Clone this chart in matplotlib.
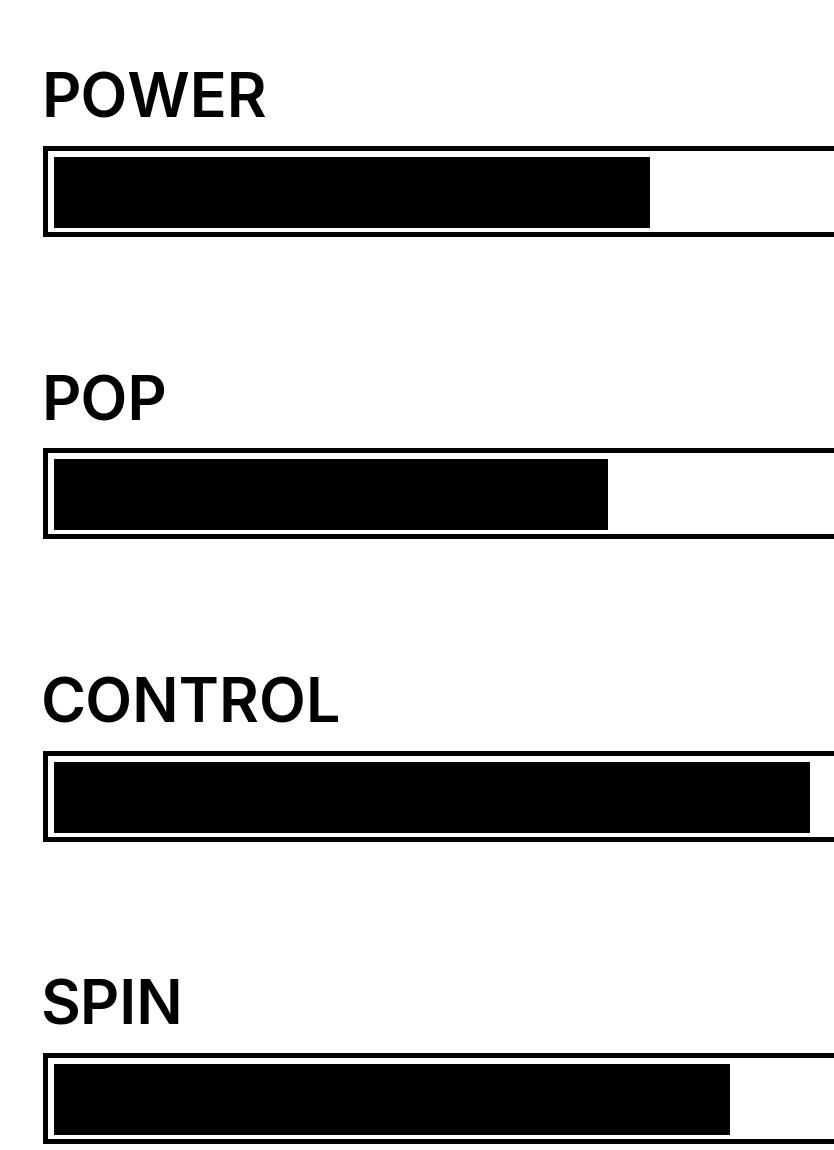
import matplotlib
matplotlib.use("Agg")
import matplotlib.pyplot as plt
from matplotlib.patches import Rectangle

# ---------------------------
# DATA
# ---------------------------
labels = ["POWER", "POP", "CONTROL", "SPIN"]
values = [71, 66, 90, 80.5]   # out of 100
max_value = 100

# ---------------------------
# LAYOUT (pixels)
# ---------------------------
W, H = 834, 1150
step = 302.3
track_left = 54
track_len = 840
track_top = 157
track_h = 71

fig = plt.figure(figsize=(W / 100, H / 100), dpi=100)
fig.patch.set_facecolor("white")


def px_rect(x0, y0, x1, y1, color, z):
    """Filled rectangle given in pixel coords (y from top)."""
    return Rectangle((x0 / W, 1 - y1 / H), (x1 - x0) / W, (y1 - y0) / H,
                     transform=fig.transFigure, facecolor=color,
                     edgecolor="none", zorder=z)


for i, (label, val) in enumerate(zip(labels, values)):
    top = track_top + i * step

    # outer frame: black box with white inset
    fig.patches.append(px_rect(43, top - 11, 900, top + 80, "black", 1))
    fig.patches.append(px_rect(48, top - 6, 895, top + 75, "white", 1.5))

    ax = fig.add_axes([track_left / W, 1 - (top + track_h) / H,
                       track_len / W, track_h / H])
    ax.set_zorder(2)
    ax.barh(0, val, height=1, left=0, color="black")
    ax.set_xlim(0, max_value)
    ax.set_ylim(-0.5, 0.5)
    ax.axis("off")

    # label
    fig.text(41 / W, 1 - (118 + i * step) / H, label,
             fontsize=44, fontweight="semibold", family="Inter",
             color="black", ha="left", va="baseline")

fig.savefig("out.png", dpi=100, facecolor="white")
